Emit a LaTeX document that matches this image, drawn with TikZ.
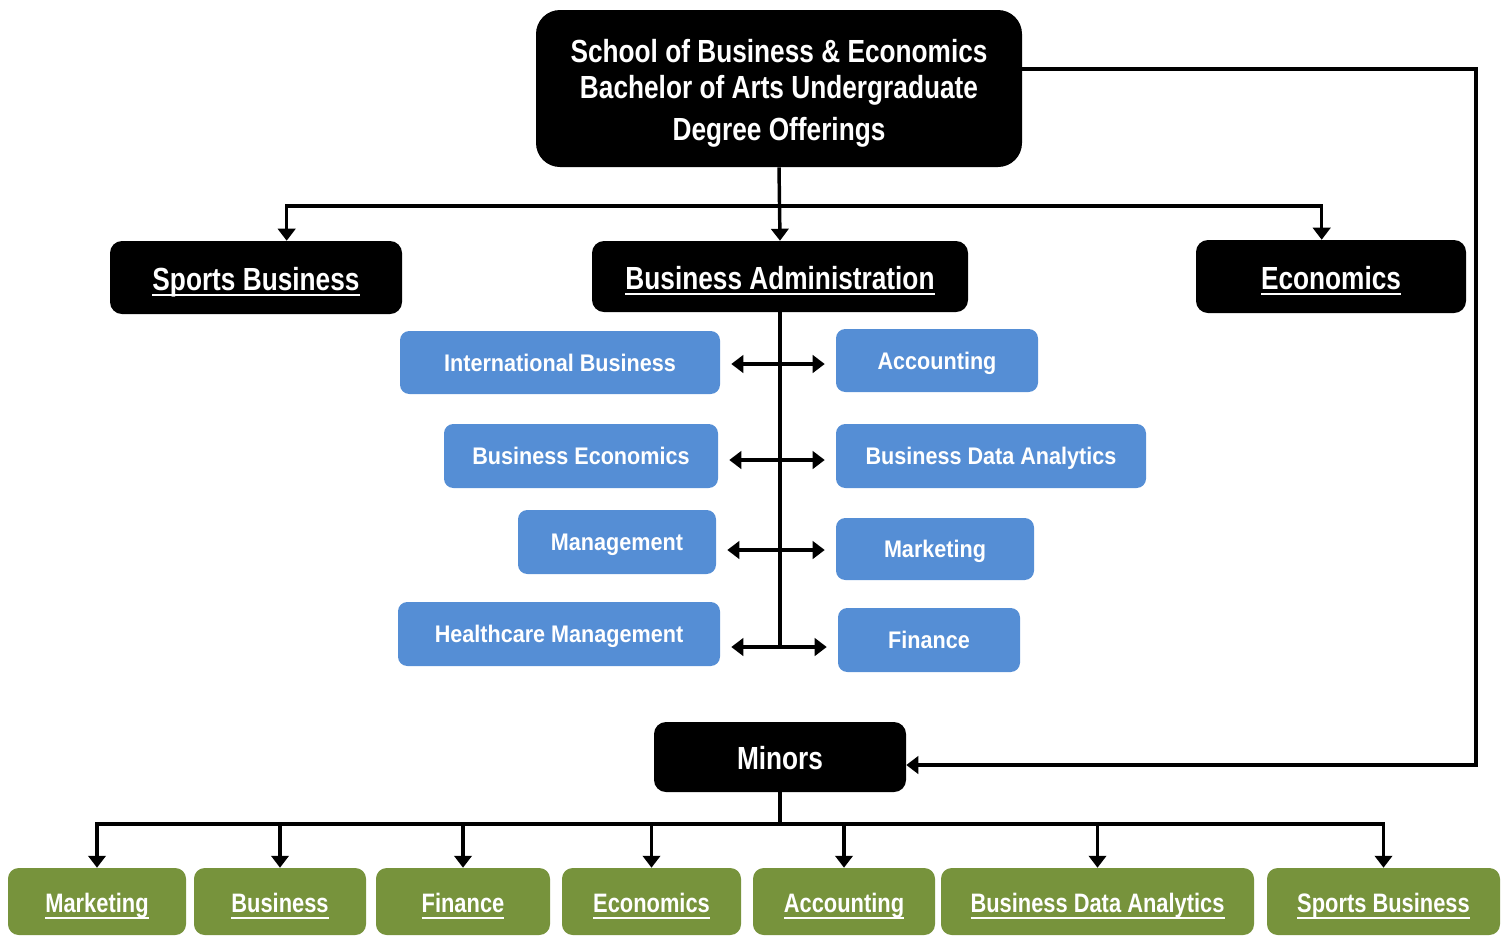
\documentclass[tikz,border=0pt]{standalone}
\usepackage{fontspec}
\setmainfont[FakeStretch=0.82]{Liberation Sans}
\newfontfamily\bluefont[FakeStretch=0.9]{Liberation Sans}
\usetikzlibrary{arrows.meta,calc}
\definecolor{boxblue}{RGB}{85,142,213}
\definecolor{boxgreen}{RGB}{119,147,60}
% thick underline
\newcommand{\uln}[1]{\leavevmode\setbox0=\hbox{#1}\rlap{\vrule width\wd0 height -3pt depth 4.4pt}\box0}

\begin{document}
\begin{tikzpicture}[x=0.75pt,y=0.75pt,yscale=-1,xscale=1,
    headbox/.style={fill=black,text=white,rounded corners=9pt,inner sep=0pt,text height=18.8pt,text depth=0pt,font=\bfseries\fontsize{24}{28}\selectfont},
    majorbox/.style={fill=boxblue,text=white,rounded corners=7pt,inner sep=0pt,text height=13.4pt,text depth=0pt,font=\bluefont\bfseries\fontsize{18}{21}\selectfont},
    minorbox/.style={fill=boxgreen,text=white,rounded corners=8pt,inner sep=0pt,text height=17.2pt,text depth=0pt,font=\bfseries\fontsize{20}{24}\selectfont},
    treeline/.style={line width=2.6pt,-{Triangle[length=9pt,width=13pt]}},
    pairline/.style={line width=2.6pt,{Triangle[length=9pt,width=13pt]}-{Triangle[length=9pt,width=13pt]}}]
    \useasboundingbox (0,0) rectangle (1508,936);

    % Degree Offerings
    \node [fill=black,text=white,rounded corners=18pt,inner sep=0pt,minimum width=364.5pt,minimum height=117.75pt,align=center,font=\bfseries\fontsize{24}{27}\selectfont] (school) at (779,88.5) {\rule{0pt}{25pt}School of Business \& Economics\\Bachelor of Arts Undergraduate\\[4.5pt]Degree Offerings};

    % Programs
    \node [headbox,minimum width=219pt,minimum height=54.75pt] (sports) at (256,277.5) {\uln{Sports Business}};
    \node [headbox,minimum width=282pt,minimum height=53.25pt] (busadmin) at (780,276.5) {\uln{Business Administration}};
    \node [headbox,minimum width=202.5pt,minimum height=54.75pt] (econ) at (1331,276.5) {\uln{Economics}};

    % Concentrations
    \node [majorbox,minimum width=240pt,minimum height=47.25pt] (intl) at (560,362.5) {International Business};
    \node [majorbox,minimum width=151.5pt,minimum height=47.25pt] (acct) at (937,360.5) {Accounting};
    \node [majorbox,minimum width=205.5pt,minimum height=48pt] (buseco) at (581,456) {Business Economics};
    \node [majorbox,minimum width=232.5pt,minimum height=48pt] (bda) at (991,456) {Business Data Analytics};
    \node [majorbox,minimum width=148.5pt,minimum height=48pt] (mgmt) at (617,542) {Management};
    \node [majorbox,minimum width=148.5pt,minimum height=46.5pt] (mkt) at (935,549) {Marketing};
    \node [majorbox,minimum width=241.5pt,minimum height=48pt] (health) at (559,634) {Healthcare Management};
    \node [majorbox,minimum width=136.5pt,minimum height=48pt] (fin) at (929,640) {Finance};

    % Minors
    \node [headbox,minimum width=189pt,minimum height=52.5pt] (minors) at (780,757) {Minors};
    \node [minorbox,minimum width=133.5pt,minimum height=50.25pt] (mmkt) at (97,901.5) {\uln{Marketing}};
    \node [minorbox,minimum width=129pt,minimum height=50.25pt] (mbus) at (280,901.5) {\uln{Business}};
    \node [minorbox,minimum width=130.5pt,minimum height=50.25pt] (mfin) at (463,901.5) {\uln{Finance}};
    \node [minorbox,minimum width=134.25pt,minimum height=50.25pt] (mecon) at (651.5,901.5) {\uln{Economics}};
    \node [minorbox,minimum width=136.5pt,minimum height=50.25pt] (macct) at (844,901.5) {\uln{Accounting}};
    \node [minorbox,minimum width=234.75pt,minimum height=50.25pt] (mbda) at (1097.5,901.5) {\uln{Business Data Analytics}};
    \node [minorbox,minimum width=174.75pt,minimum height=50.25pt] (msport) at (1383.5,901.5) {\uln{Sports Business}};

    % Connectors
    \coordinate (split) at (780,206);
    \coordinate (loop) at (1476,69);
    \coordinate (spine) at (779,647);
    \coordinate (bus) at (778,824);
    \draw [treeline] (school.south) -- (busadmin.north);
    \draw [treeline] (split) -| ([xshift=23pt]sports.north);
    \draw [treeline] (split) -| ([xshift=-7pt]econ.north);
    \draw [treeline] (school.east |- loop) -- (loop) |- ([yshift=6pt]minors.east);
    \draw [line width=2.6pt] (busadmin.south) -- (busadmin.south |- spine);
    \foreach \l/\r/\y in {intl/acct/364,buseco/bda/460,mgmt/mkt/550,health/fin/647}
        \draw [pairline] ($(\l.east |- 0,\y)+(11,0)$) -- ($(\r.west |- 0,\y)+(-11,0)$);
    \draw [line width=2.6pt] (minors.south) -- (minors.south |- bus);
    \foreach \g in {mmkt,mbus,mfin,mecon,macct,mbda,msport}
        \draw [treeline] (minors.south |- bus) -| (\g.north);
\end{tikzpicture}
\end{document}
